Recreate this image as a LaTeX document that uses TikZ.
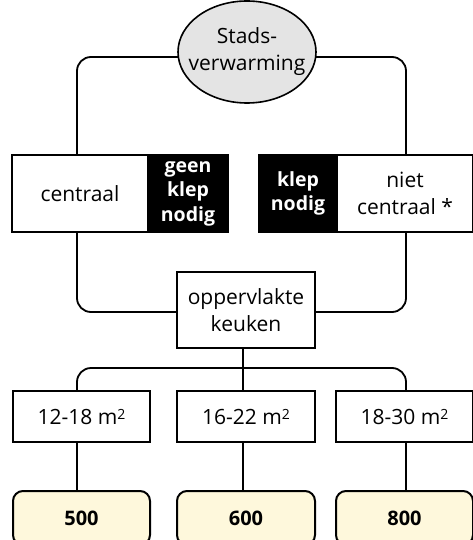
\documentclass[tikz,border=0pt]{standalone}
\usepackage{fontspec}
\setmainfont{Open Sans}
\usetikzlibrary{shapes.geometric}
\definecolor{ellgray}{HTML}{E4E4E4}
\definecolor{cream}{HTML}{FEF8DC}
\newcommand{\sqm}{m\raisebox{5pt}{\fontsize{14}{14}\selectfont 2}}
\begin{document}
\begin{tikzpicture}[x=1pt,y=-1pt,
  every node/.style={inner sep=0pt, outer sep=0pt},
  txt/.style={font=\fontsize{21}{27}\selectfont, align=center},
  wbox/.style={txt, draw, line width=2pt, fill=white},
  bbox/.style={draw, line width=2pt, fill=black, text=white, align=center,
    font=\fontsize{19.5}{24.5}\selectfont\bfseries},
  ybox/.style={draw, line width=2pt, fill=cream, rounded corners=10pt,
    font=\fontsize{20}{26}\selectfont\bfseries},
  conn/.style={line width=1.8pt, rounded corners=14pt}]
\useasboundingbox (0,0) rectangle (473,540);
\clip (0,0) rectangle (473,540);
% top ellipse
\node[ellipse, draw, line width=1.6pt, fill=ellgray, minimum width=138pt, minimum height=102pt] (sv) at (247,52) {};
\node[txt] (svt) at (sv.center) {Stads-\\verwarming};
% left pair
\node[wbox, minimum width=136pt, minimum height=77pt] (centraal) at (80,193.5) {centraal};
\node[bbox, minimum width=80pt, minimum height=77pt] (geen) at (188,193.5) {geen\\klep\\nodig};
% right pair
\node[bbox, minimum width=78pt, minimum height=77pt] (klep) at (298,193.5) {klep\\nodig};
\node[wbox, minimum width=136pt, minimum height=77pt] (niet) at (405,193.5) {niet\\centraal *};
% oppervlakte
\node[wbox, minimum width=138pt, minimum height=76pt] (opp) at (246,310) {oppervlakte\\keuken};
% size boxes
\node[wbox, minimum width=137pt, minimum height=51pt] (m1) at (81.5,416.5) {12-18 \sqm};
\node[wbox, minimum width=138pt, minimum height=51pt] (m2) at (246,416.5) {16-22 \sqm};
\node[wbox, minimum width=137pt, minimum height=51pt] (m3) at (404.5,416.5) {18-30 \sqm};
% result boxes
\node[ybox, minimum width=137pt, minimum height=54pt] (y1) at (81.5,518) {500};
\node[ybox, minimum width=138pt, minimum height=54pt] (y2) at (246,518) {600};
\node[ybox, minimum width=137pt, minimum height=54pt] (y3) at (404.5,518) {800};
% connectors
\draw[conn] ([yshift=-5pt]sv.west) -| ([xshift=-3pt]centraal.north);
\draw[conn] ([yshift=-5pt]sv.east) -| ([xshift=1pt]niet.north);
\draw[conn] ([xshift=-3pt]centraal.south) |- ([yshift=-2pt]opp.west);
\draw[conn] ([xshift=1pt]niet.south) |- ([yshift=-2pt]opp.east);
\draw[conn] ([xshift=-3pt]opp.south) -- ([xshift=-3pt]m2.north);
\draw[conn] ([xshift=-4.5pt]m1.north) |- ([xshift=-3pt,yshift=-20pt]opp.south) -| ([xshift=1.5pt]m3.north);
\draw[conn] ([xshift=-4.5pt]m1.south) -- ([xshift=-4.5pt]y1.north);
\draw[conn] ([xshift=-3pt]m2.south) -- ([xshift=-3pt]y2.north);
\draw[conn] ([xshift=1.5pt]m3.south) -- ([xshift=1.5pt]y3.north);
\end{tikzpicture}
\end{document}
